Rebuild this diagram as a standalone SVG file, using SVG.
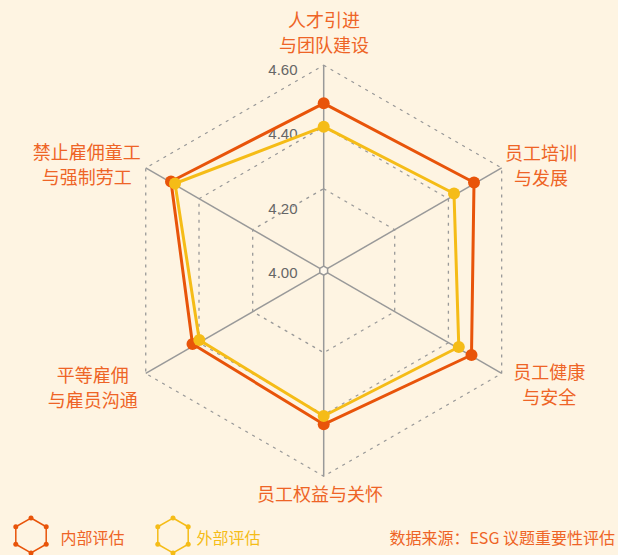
<svg xmlns="http://www.w3.org/2000/svg" width="618" height="555" viewBox="0 0 618 555">
<style>
.bg{fill:#FEF4E2}
.axis{stroke:#999;stroke-width:1.5;fill:none}
.ring{stroke:#999;stroke-width:1.3;fill:none;stroke-dasharray:3 5}
.val{font-family:"Liberation Sans",Arial,sans-serif;font-size:15px;fill:#666;text-anchor:end;dominant-baseline:central}
.lbl{font-family:"Noto Sans CJK SC","Noto Sans",sans-serif;font-size:18px;fill:#EE6426;text-anchor:middle;dominant-baseline:central}
.leg{font-family:"Noto Sans CJK SC","Noto Sans",sans-serif;font-size:16px;dominant-baseline:central}
.sIn{stroke:#E8540A;stroke-width:3;fill:none;stroke-linejoin:round}
.sEx{stroke:#F5BC17;stroke-width:3;fill:none;stroke-linejoin:round}
.dIn{fill:#E8540A}
.dEx{fill:#F5BC17}
</style>
<rect class="bg" x="0" y="0" width="618" height="555"/>
<g id="value-labels">
<text class="val" x="297.5" y="69.5">4.60</text>
<text class="val" x="297.5" y="133.7">4.40</text>
<text class="val" x="297.5" y="208.3">4.20</text>
<text class="val" x="297.5" y="272.7">4.00</text>
</g>
<g id="grid">
<polygon class="ring" points="323.7,65.2 501.67,167.95 501.67,373.45 323.7,476.2 145.73,373.45 145.73,167.95"/>
<polygon class="ring" points="323.7,126.7 448.4,198.7 448.4,342.7 323.7,414.7 199,342.7 199,198.7"/>
<polygon class="ring" points="323.7,188.7 394.7,229.7 394.7,311.7 323.7,352.7 252.7,311.7 252.7,229.7"/>
<line class="axis" x1="323.7" y1="270.7" x2="323.7" y2="65.2"/>
<line class="axis" x1="323.7" y1="270.7" x2="501.67" y2="167.95"/>
<line class="axis" x1="323.7" y1="270.7" x2="501.67" y2="373.45"/>
<line class="axis" x1="323.7" y1="270.7" x2="323.7" y2="476.2"/>
<line class="axis" x1="323.7" y1="270.7" x2="145.73" y2="373.45"/>
<line class="axis" x1="323.7" y1="270.7" x2="145.73" y2="167.95"/>
<polygon points="323.7,266.2 327.6,268.45 327.6,272.95 323.7,275.2 319.8,272.95 319.8,268.45" fill="#FFF8EC" stroke="#999" stroke-width="1.5"/>
</g>
<g id="axis-labels">
<g id="label-top"><text class="lbl" x="324" y="19">人才引进</text><text class="lbl" x="324" y="44">与团队建设</text></g>
<g id="label-rt"><text class="lbl" x="541" y="151.5">员工培训</text><text class="lbl" x="541" y="176.5">与发展</text></g>
<g id="label-rb"><text class="lbl" x="549.3" y="370.5">员工健康</text><text class="lbl" x="549.3" y="395.5">与安全</text></g>
<g id="label-b"><text class="lbl" x="320" y="493.3">员工权益与关怀</text></g>
<g id="label-lb"><text class="lbl" x="92.7" y="373.8">平等雇佣</text><text class="lbl" x="92.7" y="399">与雇员沟通</text></g>
<g id="label-lt"><text class="lbl" x="86.7" y="150.5">禁止雇佣童工</text><text class="lbl" x="86.7" y="176">与强制劳工</text></g>
</g>
<g id="series-internal">
<polygon class="sIn" points="323.7,103.3 474,182.5 471.5,355 323.7,424.3 192.5,344 171,181.5"/>
<circle class="dIn" cx="323.7" cy="103.3" r="6"/>
<circle class="dIn" cx="474" cy="182.5" r="6"/>
<circle class="dIn" cx="471.5" cy="355" r="6"/>
<circle class="dIn" cx="323.7" cy="424.3" r="6"/>
<circle class="dIn" cx="192.5" cy="344" r="6"/>
<circle class="dIn" cx="171" cy="181.5" r="6"/>
</g>
<g id="series-external">
<polygon class="sEx" points="323.7,126.7 454,193.5 458.8,347 323.7,416 199.3,340 175,183.5"/>
<circle class="dEx" cx="323.7" cy="126.7" r="6"/>
<circle class="dEx" cx="454" cy="193.5" r="6"/>
<circle class="dEx" cx="458.8" cy="347" r="6"/>
<circle class="dEx" cx="323.7" cy="416" r="6"/>
<circle class="dEx" cx="199.3" cy="340" r="6"/>
<circle class="dEx" cx="175" cy="183.5" r="6"/>
</g>
<g id="legend">
<g id="legend-internal">
<polygon points="31,518 46.2,526.75 46.2,544.25 31,553 15.8,544.25 15.8,526.75" fill="none" stroke="#E8540A" stroke-width="1.5"/>
<g class="dIn"><circle cx="31" cy="518" r="2.5"/><circle cx="46.2" cy="526.75" r="2.5"/><circle cx="46.2" cy="544.25" r="2.5"/><circle cx="31" cy="553" r="2.5"/><circle cx="15.8" cy="544.25" r="2.5"/><circle cx="15.8" cy="526.75" r="2.5"/></g>
<text class="leg" x="60.5" y="536.7" fill="#EE6426">内部评估</text>
</g>
<g id="legend-external">
<polygon points="173,518 188.2,526.75 188.2,544.25 173,553 157.8,544.25 157.8,526.75" fill="none" stroke="#F5BC17" stroke-width="1.5"/>
<g class="dEx"><circle cx="173" cy="518" r="2.5"/><circle cx="188.2" cy="526.75" r="2.5"/><circle cx="188.2" cy="544.25" r="2.5"/><circle cx="173" cy="553" r="2.5"/><circle cx="157.8" cy="544.25" r="2.5"/><circle cx="157.8" cy="526.75" r="2.5"/></g>
<text class="leg" x="196.5" y="536.7" fill="#F5BC17">外部评估</text>
</g>
<text id="source" class="leg" x="615" y="536.7" fill="#EE6426" text-anchor="end">数据来源：ESG 议题重要性评估</text>
</g>
</svg>
